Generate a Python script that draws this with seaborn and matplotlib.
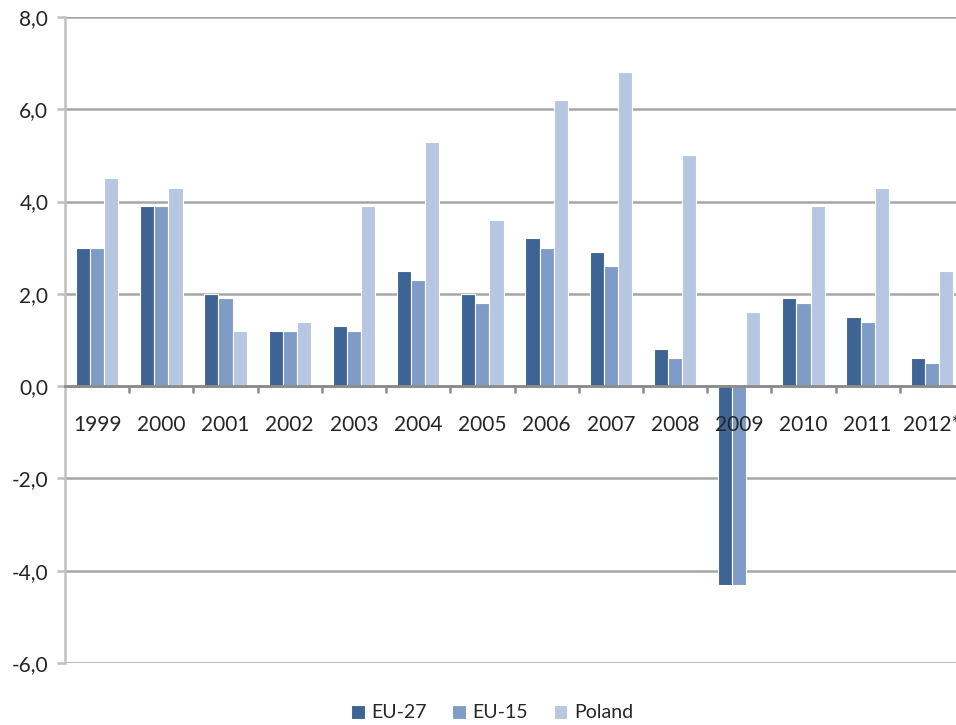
import pandas as pd
import seaborn as sns
import matplotlib.pyplot as plt
from matplotlib.ticker import FuncFormatter, FixedLocator

# Dane
years = ['1999', '2000', '2001', '2002', '2003', '2004', '2005', '2006',
         '2007', '2008', '2009', '2010', '2011', '2012*']
eu27 = [3.0, 3.9, 2.0, 1.2, 1.3, 2.5, 2.0, 3.2, 2.9, 0.8, -4.3, 1.9, 1.5, 0.6]
eu15 = [3.0, 3.9, 1.9, 1.2, 1.2, 2.3, 1.8, 3.0, 2.6, 0.6, -4.3, 1.8, 1.4, 0.5]
poland = [4.5, 4.3, 1.2, 1.4, 3.9, 5.3, 3.6, 6.2, 6.8, 5.0, 1.6, 3.9, 4.3, 2.5]
series = ['EU-27', 'EU-15', 'Poland']
colors = ['#3E6496', '#7F9CC8', '#B7C6E1']

df = pd.DataFrame({'Year': years, 'EU-27': eu27, 'EU-15': eu15, 'Poland': poland})
long_df = df.melt(id_vars='Year', var_name='Series', value_name='Value')

sns.set_style('white')
plt.rcParams['font.family'] = ['Lato', 'DejaVu Sans']

fig = plt.figure(figsize=(9.56, 7.25), dpi=100)
ax = fig.add_axes([65 / 956, 62 / 725, 899 / 956, 646 / 725])

sns.barplot(data=long_df, x='Year', y='Value', hue='Series', hue_order=series,
            palette=colors, width=0.66, edgecolor='white', linewidth=0.8,
            saturation=1, ax=ax)

ax.set_ylim(-6, 8)
ax.set_xlim(-0.5, len(years) - 0.5)
ax.set_yticks(range(-6, 9, 2))
ax.yaxis.set_major_formatter(FuncFormatter(lambda v, p: f'{v:.1f}'.replace('.', ',')))
ax.grid(axis='y', color='#A6A6A6', linewidth=1.8, zorder=0)
ax.set_axisbelow(True)

# oś x na zerze
ax.spines['bottom'].set_position(('data', 0))
ax.spines['bottom'].set_color('#8C8C8C')
ax.spines['bottom'].set_linewidth(2)
ax.spines['bottom'].set_zorder(3)
ax.spines['left'].set_color('#C0C0C0')
ax.spines['left'].set_linewidth(1.8)
ax.spines['top'].set_visible(False)
ax.spines['right'].set_visible(False)

# etykiety lat nad słupkami (2009 jest na słupku)
ax.set_xticks(range(len(years)))
ax.set_xticklabels([])
ax.tick_params(axis='x', which='major', length=0)
for i, y in enumerate(years):
    ax.text(i, -0.85, y, ha='center', va='center', fontsize=15, zorder=5)

ax.xaxis.set_minor_locator(FixedLocator([i + 0.5 for i in range(len(years))]))
ax.tick_params(axis='x', which='minor', length=5, width=1.8, color='#8C8C8C', direction='out', bottom=True)
ax.tick_params(axis='y', length=6, width=1.8, color='#C0C0C0', labelsize=15, pad=6, left=True)

ax.set_xlabel('')
ax.set_ylabel('')

handles, labels = ax.get_legend_handles_labels()
ax.legend(handles, labels, loc='center', bbox_to_anchor=(0.475, -50 / 646),
          ncol=3, frameon=False, fontsize=14, handlelength=0.7, handleheight=0.7,
          handletextpad=0.35, columnspacing=1.3)

plt.savefig('out.png', dpi=100)
